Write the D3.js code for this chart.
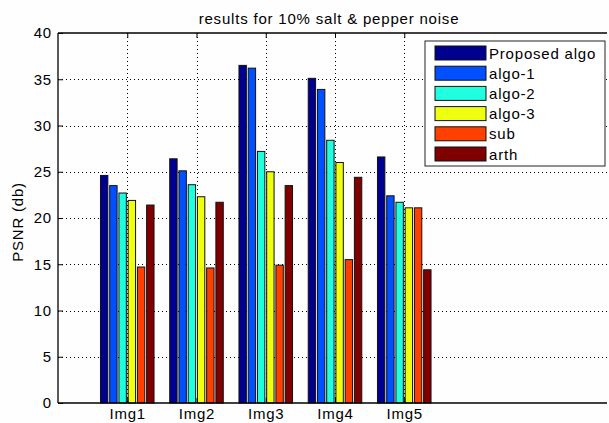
<!DOCTYPE html>
<html>
<head>
<meta charset="utf-8">
<script src="https://cdn.jsdelivr.net/npm/d3@7"></script>
<style>
	html, body { margin: 0; background: #fefefe; overflow: hidden; }
	svg { display: block; }
	svg text { font-family: "Liberation Sans", Arial, sans-serif; fill: #000; letter-spacing: 0.8px; }
</style>
</head>
<body>
<div id="chart"></div>
<script>
// data
const categories = ['Img1', 'Img2', 'Img3', 'Img4', 'Img5'];
const seriesNames = ['Proposed algo', 'algo-1', 'algo-2', 'algo-3', 'sub', 'arth'];
const proposedAlgo = [24.6, 26.4, 36.5, 35.1, 26.6];
const algo1 = [23.5, 25.1, 36.2, 33.9, 22.4];
const algo2 = [22.7, 23.6, 27.2, 28.4, 21.7];
const algo3 = [21.9, 22.3, 25.0, 26.0, 21.1];
const sub = [14.7, 14.6, 14.9, 15.5, 21.1];
const arth = [21.4, 21.7, 23.5, 24.4, 14.4];
const yTickValues = [0, 5, 10, 15, 20, 25, 30, 35, 40];
const seriesColors = ['#00008f', '#0050ff', '#20ffdf', '#efff10', '#ff4000', '#800000'];

const seriesValues = [proposedAlgo, algo1, algo2, algo3, sub, arth];

const config = {
	width: 609,
	height: 423,
	left: 58,
	right: 612,
	top: 33,
	bottom: 403,
	clipRight: 607,
	fontSize: 15,
};

const svg = d3.select('#chart').append('svg')
	.attr('width', config.width)
	.attr('height', config.height)
	.style('background', '#fefefe');

// everything is clipped a little short of the right edge (the axes box is cut off there)
svg.append('defs').append('clipPath')
	.attr('id', 'page-clip')
	.append('rect')
	.attr('x', 0)
	.attr('y', 0)
	.attr('width', config.clipRight)
	.attr('height', config.height);

const chart = svg.append('g').attr('clip-path', 'url(#page-clip)');

// scales (x is the bar position axis, MATLAB-like 0..8)
const xScale = d3.scaleLinear().domain([0, 8]).range([config.left, config.right]);
const yScale = d3.scaleLinear().domain([0, 40]).range([config.bottom, config.top]);
const xTickValues = categories.map((_, i) => i + 1);

// grid lines, dotted, behind the bars
const grid = chart.append('g').attr('class', 'grid')
	.attr('stroke-width', 1)
	.attr('stroke-dasharray', '1,3');

grid.selectAll('.hgrid')
	.data(yTickValues.slice(1, -1))
	.join('line')
	.attr('class', 'hgrid')
	.attr('stroke', '#000')
	.attr('x1', config.left)
	.attr('x2', config.clipRight)
	.attr('y1', d => Math.round(yScale(d)) + 0.5)
	.attr('y2', d => Math.round(yScale(d)) + 0.5);

grid.selectAll('.vgrid')
	.data(xTickValues)
	.join('line')
	.attr('class', 'vgrid')
	.attr('stroke', '#000')
	.attr('x1', d => Math.round(xScale(d)) + 0.5)
	.attr('x2', d => Math.round(xScale(d)) + 0.5)
	.attr('y1', config.top)
	.attr('y2', config.bottom);

// grouped bars
const unit = xScale(1) - xScale(0);
const slot = unit * 0.8 / seriesNames.length;
const barWidth = slot * 0.8;

const bars = chart.append('g').attr('class', 'bars');
seriesValues.forEach((values, s) => {
	bars.selectAll(`.bar-${s}`)
		.data(values)
		.join('rect')
		.attr('class', `bar-${s}`)
		.attr('x', (d, i) => xScale(i + 1) + (s - (seriesNames.length - 1) / 2) * slot - barWidth / 2)
		.attr('width', barWidth)
		.attr('y', d => yScale(d))
		.attr('height', d => yScale(0) - yScale(d))
		.attr('fill', seriesColors[s])
		.attr('stroke', '#111')
		.attr('stroke-width', 1);
});

// axes
const yAxis = d3.axisLeft(yScale).tickValues(yTickValues).tickSize(-5).tickPadding(6);
const xAxis = d3.axisBottom(xScale)
	.tickValues(xTickValues)
	.tickFormat(d => categories[d - 1])
	.tickSize(-5)
	.tickPadding(5);
const topAxis = d3.axisTop(xScale)
	.tickValues(xTickValues)
	.tickFormat('')
	.tickSize(-5);

const yAxisG = chart.append('g').attr('transform', `translate(${config.left}, 0)`).call(yAxis);
const xAxisG = chart.append('g').attr('transform', `translate(0, ${config.bottom})`).call(xAxis);
const topAxisG = chart.append('g').attr('transform', `translate(0, ${config.top})`).call(topAxis);

// keep the frame open on the right, it falls outside the picture
xAxisG.select('.domain').attr('d', `M${config.left},0H${config.clipRight}`);
topAxisG.select('.domain').attr('d', `M${config.left},0H${config.clipRight}`);
yAxisG.select('.domain').attr('d', `M0,${config.top}V${config.bottom}`);

[yAxisG, xAxisG, topAxisG].forEach(g => {
	g.select('.domain').attr('stroke', '#000').attr('stroke-width', 1.3);
	g.selectAll('.tick line').attr('stroke', '#000');
	g.selectAll('.tick text').style('font-size', config.fontSize + 'px');
});

// title
chart.append('text')
	.attr('x', (config.left + config.right) / 2 - 6)
	.attr('y', 24)
	.attr('text-anchor', 'middle')
	.style('font-size', config.fontSize + 'px')
	.text('results for 10% salt & pepper noise');

// y axis label
chart.append('text')
	.attr('transform', 'rotate(-90)')
	.attr('x', -(config.top + config.bottom) / 2 - 4)
	.attr('y', 23)
	.attr('text-anchor', 'middle')
	.style('font-size', config.fontSize + 'px')
	.text('PSNR (db)');

// legend
const legend = chart.append('g').attr('class', 'legend').attr('transform', 'translate(425, 41)');
legend.append('rect')
	.attr('width', 180)
	.attr('height', 125)
	.attr('fill', '#fff')
	.attr('stroke', '#222')
	.attr('stroke-width', 1);

const legendItems = legend.selectAll('.legend-item')
	.data(seriesNames)
	.join('g')
	.attr('class', 'legend-item')
	.attr('transform', (d, i) => `translate(10, ${5 + i * 20.2})`);

legendItems.append('rect')
	.attr('width', 51)
	.attr('height', 14)
	.attr('fill', (d, i) => seriesColors[i])
	.attr('stroke', '#111');

legendItems.append('text')
	.attr('x', 54)
	.attr('y', 12.5)
	.style('font-size', config.fontSize + 'px')
	.text(d => d);
</script>
</body>
</html>
